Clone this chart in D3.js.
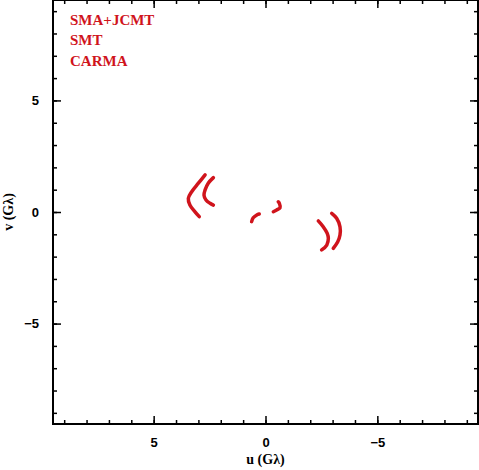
<!DOCTYPE html>
<html>
<head>
<meta charset="utf-8">
<script src="https://cdn.jsdelivr.net/npm/d3@7"></script>
<style>
    body { margin: 0; background: #fff; }
    svg { display: block; }
    .tick text { font-family: 'Liberation Sans', Arial, sans-serif; font-weight: bold; font-size: 13px; fill: #000; }
    .tick line { stroke: #000; stroke-width: 1.5; }
    .ttl { font-family: 'Liberation Serif', 'Times New Roman', serif; font-weight: bold; font-size: 14px; }
</style>
</head>
<body>
<div class="chart"></div>
<script>
(function() {
    'use strict';

    // baselines, all drawn red; u and v in G-lambda
    var names = ['SMA+JCMT', 'SMT', 'CARMA'];
    var hiSmtU = [2.70, 3.00, 3.30, 3.45, 3.38, 3.15, 2.96];
    var hiSmtV = [1.66, 1.29, 0.91, 0.61, 0.31, 0.01, -0.21];
    var hiCarmaU = [2.33, 2.56, 2.70, 2.75, 2.66, 2.48, 2.33];
    var hiCarmaV = [1.54, 1.29, 0.99, 0.76, 0.54, 0.39, 0.31];
    var smtHiU = [-2.96, -3.18, -3.33, -3.33, -3.23, -3.03];
    var smtHiV = [-0.06, -0.28, -0.66, -1.03, -1.33, -1.63];
    var carmaHiU = [-2.36, -2.58, -2.76, -2.81, -2.74, -2.51];
    var carmaHiV = [-0.40, -0.66, -0.96, -1.18, -1.48, -1.70];
    var smtCarmaU = [0.62, 0.55, 0.39, 0.28];
    var smtCarmaV = [-0.43, -0.26, -0.13, -0.09];
    var carmaSmtU = [-0.35, -0.50, -0.65, -0.62, -0.57];
    var carmaSmtV = [0.01, 0.09, 0.19, 0.39, 0.46];
    var majorTicks = [-5, 0, 5];
    var minorTicks = d3.range(-9, 10);

    var tracks = [
        [hiSmtU, hiSmtV], [hiCarmaU, hiCarmaV],
        [smtHiU, smtHiV], [carmaHiU, carmaHiV],
        [smtCarmaU, smtCarmaV], [carmaSmtU, carmaSmtV]
    ];

    var W = 479, H = 470;
    var left = 53, right = 478, top = 0, bottom = 424;
    var red = '#d0141c';

    var svg = d3.select('.chart').append('svg')
        .attr('width', W)
        .attr('height', H);

    var x = d3.scaleLinear().domain([9.5, -9.5]).range([left, right]);
    var y = d3.scaleLinear().domain([-9.5, 9.5]).range([bottom, top]);

    function fmt(d) {
        return d < 0 ? '\u2212' + Math.abs(d) : d;
    }

    function addAxis(gen, tx, ty, labels) {
        var g = svg.append('g').attr('transform', 'translate(' + tx + ',' + ty + ')');
        g.call(gen.tickValues(minorTicks).tickSize(-4).tickFormat(''));
        g.select('.domain').remove();
        var m = svg.append('g').attr('transform', 'translate(' + tx + ',' + ty + ')');
        m.call(gen.tickValues(majorTicks).tickSize(-8).tickPadding(labels ? 14 : 0)
            .tickFormat(labels ? fmt : ''));
        m.select('.domain').remove();
        return m;
    }

    addAxis(d3.axisBottom(x), 0, bottom, true);
    addAxis(d3.axisTop(x), 0, top, false);
    addAxis(d3.axisLeft(y), left, 0, true);
    addAxis(d3.axisRight(y), right, 0, false);

    svg.append('rect')
        .attr('x', left)
        .attr('y', top)
        .attr('width', right - left)
        .attr('height', bottom - top)
        .attr('fill', 'none')
        .attr('stroke', '#000')
        .attr('stroke-width', 2);

    var line = d3.line()
        .x(function(d) { return x(d[0]); })
        .y(function(d) { return y(d[1]); })
        .curve(d3.curveCatmullRom);

    svg.append('g').selectAll('path')
        .data(tracks)
        .enter().append('path')
        .attr('d', function(t) {
            return line(t[0].map(function(u, i) { return [u, t[1][i]]; }));
        })
        .attr('fill', 'none')
        .attr('stroke', red)
        .attr('stroke-width', 3.5)
        .attr('stroke-linecap', 'round');

    svg.append('g').selectAll('text')
        .data(names)
        .enter().append('text')
        .attr('class', 'ttl')
        .attr('x', 70)
        .attr('y', function(d, i) { return 25 + i * 20.3; })
        .attr('fill', red)
        .style('font-size', '15px')
        .text(function(d) { return d; });

    svg.append('text')
        .attr('class', 'ttl')
        .attr('x', (left + right) / 2)
        .attr('y', 464)
        .attr('text-anchor', 'middle')
        .text('u (G\u03bb)');

    svg.append('text')
        .attr('class', 'ttl')
        .attr('transform', 'translate(13,' + ((top + bottom) / 2) + ') rotate(-90)')
        .attr('text-anchor', 'middle')
        .text('v (G\u03bb)');
})();
</script>
</body>
</html>
